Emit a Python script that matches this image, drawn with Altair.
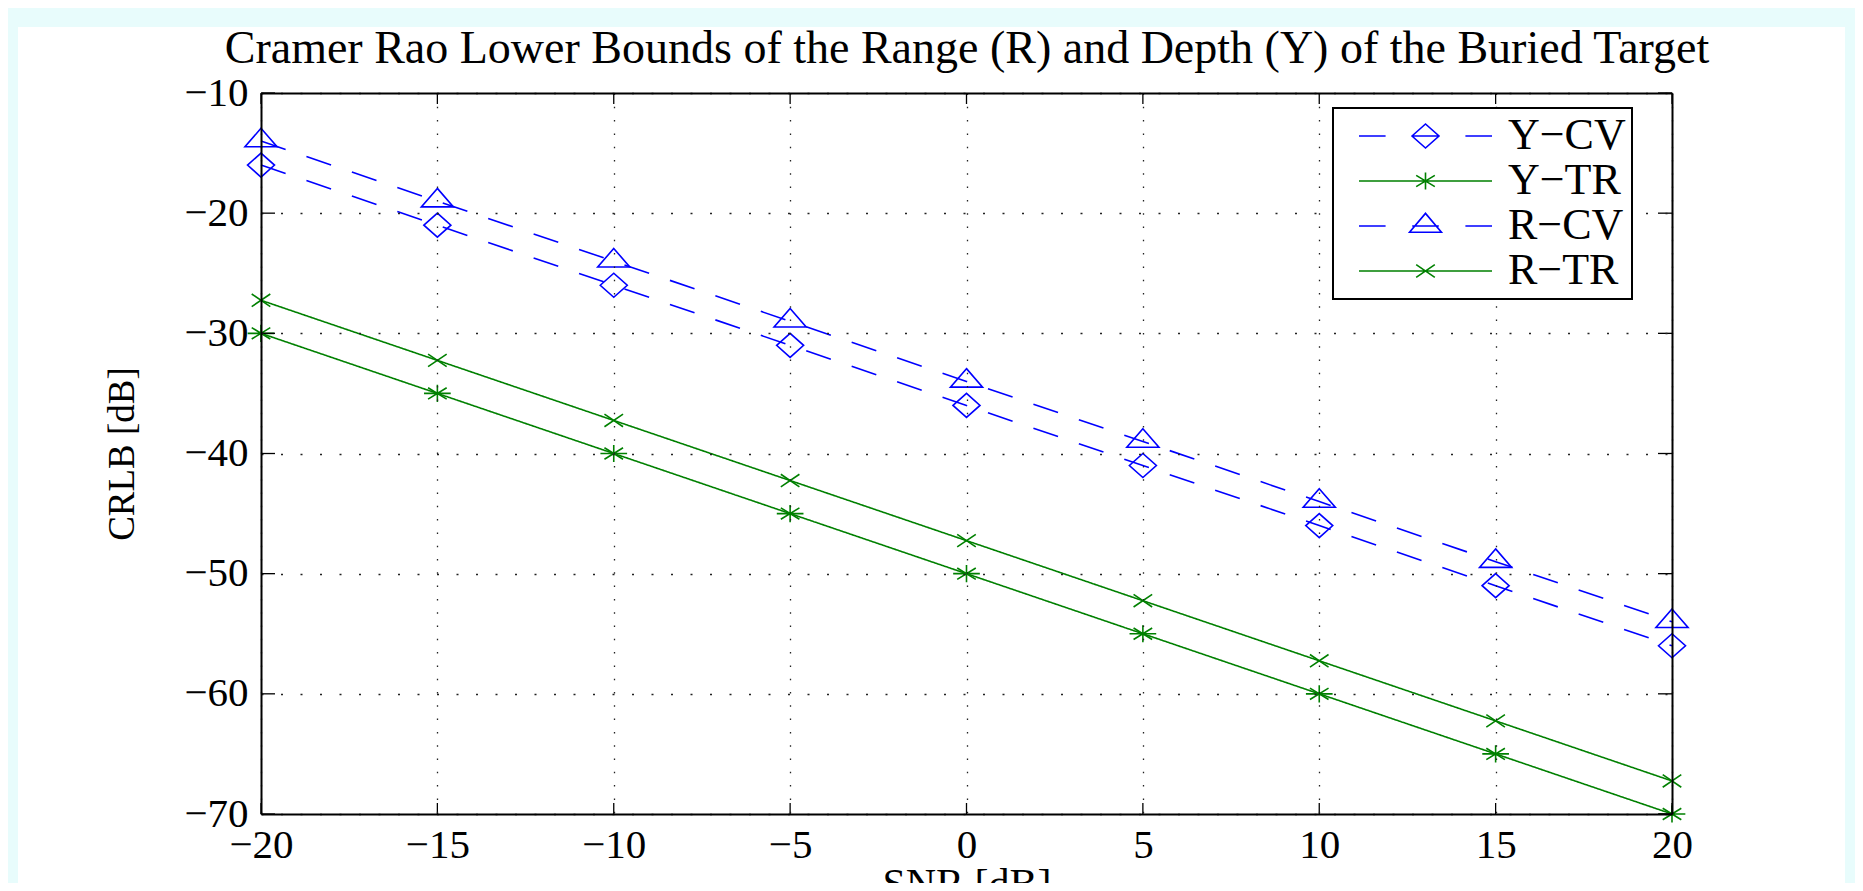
import altair as alt
import pandas as pd

# ---- data ----
SNR = [-20, -15, -10, -5, 0, 5, 10, 15, 20]
Y_CV = [-16, -21, -26, -31, -36, -41, -46, -51, -56]
Y_TR = [-30, -35, -40, -45, -50, -55, -60, -65, -70]
R_CV = [-14, -19, -24, -29, -34, -39, -44, -49, -54]
R_TR = [-27.25, -32.25, -37.25, -42.25, -47.25, -52.25, -57.25, -62.25, -67.25]
SERIES = ["Y−CV", "Y−TR", "R−CV", "R−TR"]
X_TICKS = [-20, -15, -10, -5, 0, 5, 10, 15, 20]
Y_TICKS = [-10, -20, -30, -40, -50, -60, -70]

TITLE = "Cramer Rao Lower Bounds of the Range (R) and Depth (Y) of the Buried Target"
X_TITLE = "SNR [dB]"
Y_TITLE = "CRLB [dB]"

# ---- styles ----
FONT = "Liberation Serif, Times New Roman, Times, Nimbus Roman, DejaVu Serif, serif"
BLUE = "#0000ff"
GREEN = "#008000"
COLORS = [BLUE, GREEN, BLUE, GREEN]
DASHES = [[26, 22], [1, 0], [26, 22], [1, 0]]
MARKERS = [
    "M-0.9,0L0,-0.8L0.9,0L0,0.8Z",
    "M-0.89,0L0.89,0M0,-0.57L0,0.57M-0.62,-0.38L0.62,0.38M-0.62,0.38L0.62,-0.38",
    "M0,-0.85L1.07,0.38L-1.07,0.38Z",
    "M-0.62,-0.42L0.62,0.42M-0.62,0.42L0.62,-0.42",
]
# legend symbols: unit = 20 px (symbolSize 1600), stub spans 133 px
DASH_STUB = "M-3.325,0L-1.995,0M-0.665,0L0.665,0M1.995,0L3.325,0"
SOLID_STUB = "M-3.325,0L3.325,0"
LEGEND_SYMBOLS = [
    DASH_STUB + "M-0.675,0L0,-0.6L0.675,0L0,0.6Z",
    SOLID_STUB + "M0,-0.426L0,0.426M-0.466,-0.283L0.466,0.283M-0.466,0.283L0.466,-0.283",
    DASH_STUB + "M0,-0.632L0.798,0.316L-0.798,0.316Z",
    SOLID_STUB + "M-0.466,-0.316L0.466,0.316M-0.466,0.316L0.466,-0.316",
]

W, H = 1411, 721

rows = []
for name, vals in zip(SERIES, [Y_CV, Y_TR, R_CV, R_TR]):
    for s, v in zip(SNR, vals):
        rows.append({"snr": s, "crlb": v, "series": name})
df = pd.DataFrame(rows)
xt = pd.DataFrame({"t": X_TICKS})
yt = pd.DataFrame({"t": Y_TICKS})

xscale = alt.Scale(domain=[-20, 20], nice=False, zero=False)
yscale = alt.Scale(domain=[-70, -10], nice=False, zero=False)

x_axis = alt.Axis(
    values=X_TICKS, title=X_TITLE, titleFont=FONT, titleFontSize=42,
    titleFontWeight="normal", titleColor="black", titleBaseline="top", titleY=50,
    labelFont=FONT, labelFontSize=41, labelColor="black", labelPadding=11,
    labelFlush=False, labelOverlap=False,
    ticks=False, tickSize=0, domain=True, domainColor="black", domainWidth=2,
    grid=True, gridColor="#222222", gridDash=[1.5, 11.8], gridWidth=1.3, zindex=1,
)
y_axis = alt.Axis(
    values=Y_TICKS, title=Y_TITLE, titleFont=FONT, titleFontSize=37,
    titleFontWeight="normal", titleColor="black", titleAngle=270,
    titleX=-139, titleY=360.5, titleBaseline="middle", titleAlign="center",
    labelFont=FONT, labelFontSize=41, labelColor="black", labelPadding=13,
    labelBaseline="middle", labelFlush=False, labelOverlap=False,
    ticks=False, tickSize=0, domain=True, domainColor="black", domainWidth=2,
    grid=True, gridColor="#222222", gridDash=[2, 17.5], gridWidth=1.3, zindex=1,
)
# top frame line; it also carries the chart's title text
frame_x = alt.Axis(orient="top", labels=False, ticks=False, grid=False, domain=True,
                   domainColor="black", domainWidth=2, zindex=1,
                   title=TITLE, titleFont=FONT, titleFontSize=46, titleFontWeight="normal",
                   titleColor="black", titleBaseline="alphabetic", titleY=-31)
frame_y = alt.Axis(orient="right", labels=False, ticks=False, grid=False, domain=True,
                   domainColor="black", domainWidth=2, title=None, zindex=1)

bg = alt.Chart(alt.InlineData(values=[{"a": 1}])).mark_rect(color="white").encode(
    x=alt.value(-243), x2=alt.value(1584), y=alt.value(-66), y2=alt.value(800)
)

lines = alt.Chart(df).mark_line(strokeWidth=1.6).encode(
    x=alt.X("snr:Q", scale=xscale, axis=x_axis),
    y=alt.Y("crlb:Q", scale=yscale, axis=y_axis),
    color=alt.Color("series:N", scale=alt.Scale(domain=SERIES, range=COLORS), legend=None),
    strokeDash=alt.StrokeDash("series:N", scale=alt.Scale(domain=SERIES, range=DASHES), legend=None),
)

points = alt.Chart(df).mark_point(filled=False, strokeWidth=1.6, size=900, opacity=1).encode(
    x=alt.X("snr:Q", scale=xscale, axis=None),
    y=alt.Y("crlb:Q", scale=yscale, axis=None),
    color=alt.Color("series:N", scale=alt.Scale(domain=SERIES, range=COLORS), legend=None),
    shape=alt.Shape("series:N", scale=alt.Scale(domain=SERIES, range=MARKERS), legend=None),
)

tick_top = alt.Chart(xt).mark_rule(color="black", strokeWidth=1.3).encode(
    x=alt.X("t:Q", scale=xscale, axis=frame_x), y=alt.value(0), y2=alt.value(11)
)
tick_bottom = alt.Chart(xt).mark_rule(color="black", strokeWidth=1.3).encode(
    x=alt.X("t:Q", scale=xscale, axis=None), y=alt.value(H), y2=alt.value(H - 11)
)
tick_left = alt.Chart(yt).mark_rule(color="black", strokeWidth=1.3).encode(
    y=alt.Y("t:Q", scale=yscale, axis=None), x=alt.value(0), x2=alt.value(14)
)
tick_right = alt.Chart(yt).mark_rule(color="black", strokeWidth=1.3).encode(
    y=alt.Y("t:Q", scale=yscale, axis=frame_y), x=alt.value(W), x2=alt.value(W - 14)
)


def legend_params():
    return alt.Legend(
        title=None, orient="none", legendX=1072, legendY=15,
        fillColor="white", strokeColor="black", padding=6,
        labelFont=FONT, labelFontSize=44, labelColor="black",
        labelOffset=60.5, labelLimit=0, rowPadding=1,
        symbolSize=1600, symbolOffset=64.5, symbolStrokeWidth=1.6, zindex=1,
    )


legend_layer = alt.Chart(df).transform_filter("false").mark_point(
    filled=False, strokeWidth=1.6, size=1600, opacity=1
).encode(
    x=alt.X("snr:Q", scale=xscale, axis=None),
    y=alt.Y("crlb:Q", scale=yscale, axis=None),
    color=alt.Color("series:N", scale=alt.Scale(domain=SERIES, range=COLORS),
                    legend=legend_params()),
    shape=alt.Shape("series:N", scale=alt.Scale(domain=SERIES, range=LEGEND_SYMBOLS),
                    legend=legend_params()),
)

chart = alt.layer(
    bg, lines, points, tick_top, tick_bottom, tick_left, tick_right, legend_layer
).resolve_scale(
    color="independent", shape="independent"
).resolve_axis(
    x="independent", y="independent"
).properties(
    width=W, height=H,
    autosize=alt.AutoSizeParams(type="none"),
    padding={"left": 253, "top": 85, "right": 183, "bottom": 69},
    background="#E8FCFC",
).configure_view(stroke="transparent").configure_legend(strokeWidth=2)

chart.save("out.html", embed_options={"renderer": "svg", "actions": False})
